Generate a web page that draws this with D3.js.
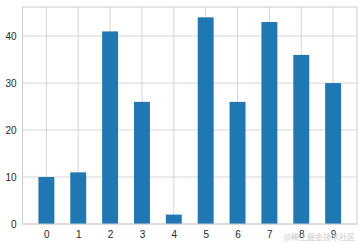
<!DOCTYPE html>
<html>
<head>
<meta charset="utf-8">
<script src="https://cdn.jsdelivr.net/npm/d3@7"></script>
<style>
body { margin: 0; background: #fff; }
text { font-family: "Liberation Sans", Arial, sans-serif; }
</style>
</head>
<body>
<div id="chart"></div>
<script>
// data
var categories = ["0","1","2","3","4","5","6","7","8","9"];
var values = [10, 11, 41, 26, 2, 44, 26, 43, 36, 30];
var yTicks = [0, 10, 20, 30, 40];

var w = 363, h = 244;
var margins = {top: 7, bottom: 20, left: 22.5, right: 6};

var svg = d3.select("#chart")
  .append("svg")
  .attr("width", w)
  .attr("height", h);

var x = d3.scaleLinear()
  .domain([-0.75, categories.length - 0.25])
  .range([margins.left, w - margins.right]);

var y = d3.scaleLinear()
  .domain([0, d3.max(values) * 1.05])
  .range([h - margins.bottom, margins.top]);

// grid
svg.append("g")
  .selectAll("line.gx")
  .data(categories)
  .enter()
  .append("line")
  .attr("x1", function(d, i) { return x(i); })
  .attr("x2", function(d, i) { return x(i); })
  .attr("y1", y.range()[0])
  .attr("y2", y.range()[1])
  .attr("stroke", "#cccccc")
  .attr("stroke-width", 0.8);

svg.append("g")
  .selectAll("line.gy")
  .data(yTicks)
  .enter()
  .append("line")
  .attr("x1", x.range()[0])
  .attr("x2", x.range()[1])
  .attr("y1", function(d) { return y(d); })
  .attr("y2", function(d) { return y(d); })
  .attr("stroke", "#cccccc")
  .attr("stroke-width", 0.8);

// bars
svg.append("g")
  .selectAll("rect")
  .data(values)
  .enter()
  .append("rect")
  .attr("fill", "#1f77b4")
  .attr("x", function(d, i) { return x(i - 0.25); })
  .attr("width", function(d, i) { return x(i + 0.25) - x(i - 0.25); })
  .attr("y", function(d) { return y(d); })
  .attr("height", function(d) { return y(0) - y(d); });

// frame
svg.append("rect")
  .attr("x", x.range()[0])
  .attr("y", y.range()[1])
  .attr("width", x.range()[1] - x.range()[0])
  .attr("height", y.range()[0] - y.range()[1])
  .attr("fill", "none")
  .attr("stroke", "#cccccc")
  .attr("stroke-width", 1);

// axes
var xAxis = d3.axisBottom(x)
  .tickValues(d3.range(categories.length))
  .tickFormat(function(i) { return categories[i]; })
  .tickSize(0)
  .tickPadding(7);

var yAxis = d3.axisLeft(y)
  .tickValues(yTicks)
  .tickSize(0)
  .tickPadding(6);

var gx = svg.append("g")
  .attr("transform", "translate(0," + y.range()[0] + ")")
  .call(xAxis);
var gy = svg.append("g")
  .attr("transform", "translate(" + x.range()[0] + ",0)")
  .call(yAxis);

[gx, gy].forEach(function(g) {
  g.select(".domain").remove();
  g.selectAll("text")
    .attr("fill", "#262626")
    .style("font-size", "10px")
    .style("font-family", "'Liberation Sans', Arial, sans-serif");
});

// watermark
svg.append("text")
  .text("@稀土掘金技术社区")
  .attr("x", 355)
  .attr("y", 240)
  .attr("text-anchor", "end")
  .attr("fill", "#c8c8c8")
  .style("font-size", "8px")
  .style("font-family", "'Noto Sans CJK SC', sans-serif");
</script>
</body>
</html>
